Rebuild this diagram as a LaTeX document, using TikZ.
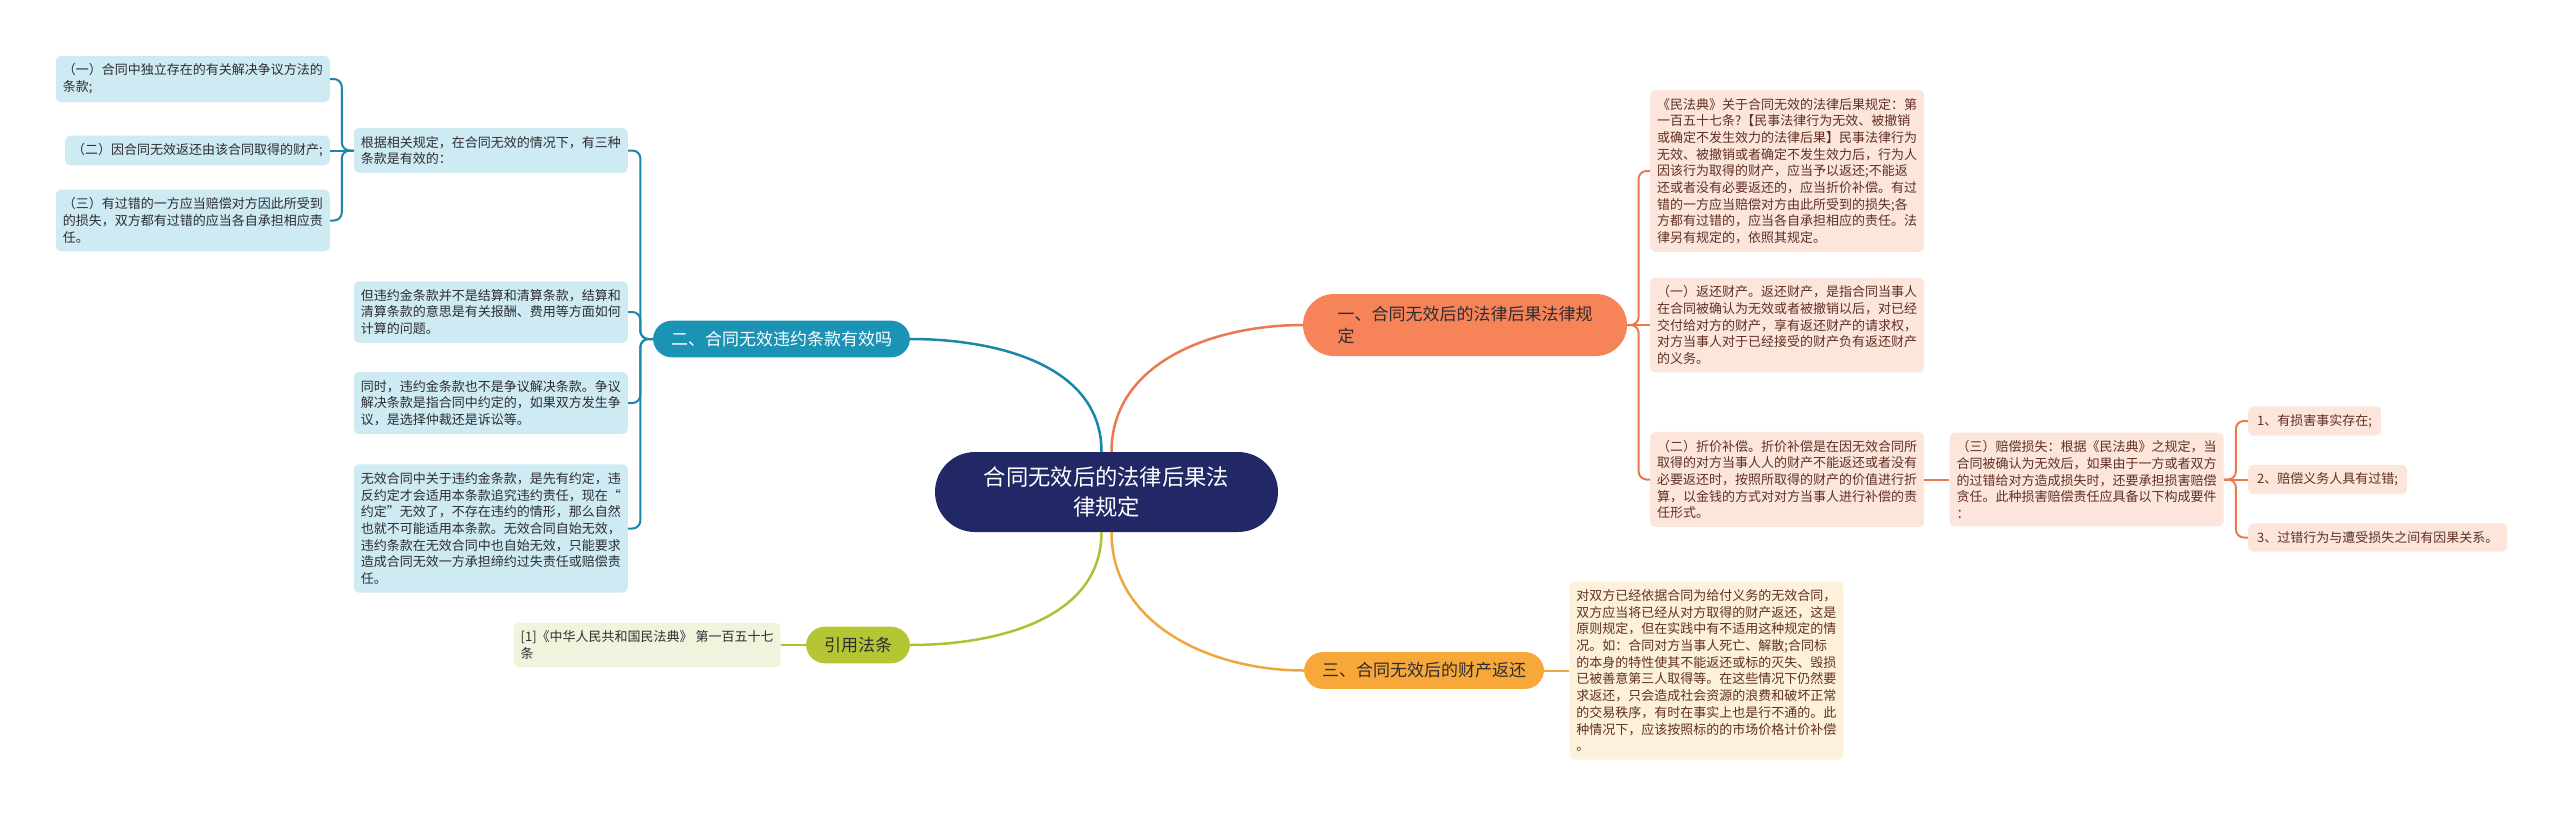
\documentclass[tikz,border=0pt]{standalone}
\usepackage{fontspec}
\setmainfont{Noto Sans CJK SC}
\usetikzlibrary{positioning, calc}

\definecolor{navy}{RGB}{34,40,102}
\definecolor{coral}{RGB}{247,131,89}
\definecolor{coralline}{RGB}{234,121,79}
\definecolor{peach}{RGB}{252,230,220}
\definecolor{brown}{RGB}{96,48,34}
\definecolor{teal}{RGB}{26,147,181}
\definecolor{tealline}{RGB}{25,135,168}
\definecolor{skyleaf}{RGB}{206,234,243}
\definecolor{amber}{RGB}{247,168,56}
\definecolor{amberline}{RGB}{240,166,62}
\definecolor{cream}{RGB}{253,241,220}
\definecolor{lime}{RGB}{182,197,52}
\definecolor{limeline}{RGB}{176,192,50}
\definecolor{limeleaf}{RGB}{241,244,220}
\definecolor{ink}{RGB}{45,45,50}

\tikzset{
  topic/.style={fill=navy, text=white, align=center, rounded corners=40pt,
    minimum width=343pt, minimum height=80pt, font=\fontsize{22.3}{30}\selectfont},
  branch/.style={rounded corners=19pt, inner xsep=18pt, inner ysep=10.5pt,
    font=\fontsize{17}{22}\selectfont},
  leaf/.style={rounded corners=5pt, align=left, inner xsep=7pt, inner ysep=8pt,
    font=\fontsize{13}{16.7}\selectfont},
  link/.style={line width=2.5pt},
  twig/.style={line width=2pt},
  fork/.style={rounded corners=8pt,
    to path={-| ($(\tikztostart)!.5!(\tikztotarget)$) |- (\tikztotarget)}},
}

\begin{document}
\begin{tikzpicture}[x=1pt, y=1pt]
\useasboundingbox (0,0) rectangle (2560,-817);

% central topic
\node[topic] (rt) at (1106.5,-492) {合同无效后的法律后果法\\律规定};

% main branches
\node[branch, fill=coral, text=ink, align=left, minimum width=324pt, minimum height=62pt,
  rounded corners=31pt] (b1) at (1465,-325) {一、合同无效后的法律后果法律规\\定};
\node[branch, fill=teal, text=white] (b2) at (781.5,-339) {二、合同无效违约条款有效吗};
\node[branch, fill=amber, text=ink] (b3) at (1424,-670.5) {三、合同无效后的财产返还};
\node[branch, fill=lime, text=ink] (b4) at (858,-645) {引用法条};

% leaves of branch one
\node[leaf, fill=peach, text=brown, anchor=west] (la) at (1650,-171)
{《民法典》关于合同无效的法律后果规定：第\\
一百五十七条?【民事法律行为无效、被撤销\\
或确定不发生效力的法律后果】民事法律行为\\
无效、被撤销或者确定不发生效力后，行为人\\
因该行为取得的财产，应当予以返还;不能返\\
还或者没有必要返还的，应当折价补偿。有过\\
错的一方应当赔偿对方由此所受到的损失;各\\
方都有过错的，应当各自承担相应的责任。法\\
律另有规定的，依照其规定。};
\node[leaf, fill=peach, text=brown, anchor=west] (lb) at (1650,-325)
{（一）返还财产。返还财产，是指合同当事人\\
在合同被确认为无效或者被撤销以后，对已经\\
交付给对方的财产，享有返还财产的请求权，\\
对方当事人对于已经接受的财产负有返还财产\\
的义务。};
\node[leaf, fill=peach, text=brown, anchor=west] (lc) at (1650,-479.5)
{（二）折价补偿。折价补偿是在因无效合同所\\
取得的对方当事人人的财产不能返还或者没有\\
必要返还时，按照所取得的财产的价值进行折\\
算，以金钱的方式对对方当事人进行补偿的责\\
任形式。};
\node[leaf, fill=peach, text=brown] (ld) [right=25pt of lc]
{（三）赔偿损失：根据《民法典》之规定，当\\
合同被确认为无效后，如果由于一方或者双方\\
的过错给对方造成损失时，还要承担损害赔偿\\
贪任。此种损害赔偿责任应具备以下构成要件\\
：};
\node[leaf, fill=peach, text=brown, anchor=west, inner xsep=9pt] (i1) at (2248,-421) {1、有损害事实存在;};
\node[leaf, fill=peach, text=brown, anchor=west, inner xsep=9pt] (i2) at (2248,-479.5) {2、赔偿义务人具有过错;};
\node[leaf, fill=peach, text=brown, anchor=west, inner xsep=9pt] (i3) at (2248,-537.5) {3、过错行为与遭受损失之间有因果关系。};

% leaves of branch two
\node[leaf, fill=skyleaf, text=ink, anchor=east] (gj) at (628,-150.5)
{根据相关规定，在合同无效的情况下，有三种\\条款是有效的：};
\node[leaf, fill=skyleaf, text=ink, anchor=east] (l1) at (330,-79)
{（一）合同中独立存在的有关解决争议方法的\\条款;};
\node[leaf, fill=skyleaf, text=ink, anchor=east] (l2) at (330,-150.5)
{（二）因合同无效返还由该合同取得的财产;};
\node[leaf, fill=skyleaf, text=ink, anchor=east] (l3) at (330,-220.5)
{（三）有过错的一方应当赔偿对方因此所受到\\
的损失，双方都有过错的应当各自承担相应责\\
任。};
\node[leaf, fill=skyleaf, text=ink, anchor=east] (w1) at (628,-312)
{但违约金条款并不是结算和清算条款，结算和\\
清算条款的意思是有关报酬、费用等方面如何\\
计算的问题。};
\node[leaf, fill=skyleaf, text=ink, anchor=east] (w2) at (628,-403)
{同时，违约金条款也不是争议解决条款。争议\\
解决条款是指合同中约定的，如果双方发生争\\
议，是选择仲裁还是诉讼等。};
\node[leaf, fill=skyleaf, text=ink, anchor=east] (w3) at (628,-528.5)
{无效合同中关于违约金条款，是先有约定，违\\
反约定才会适用本条款追究违约责任，现在“\\
约定”无效了，不存在违约的情形，那么自然\\
也就不可能适用本条款。无效合同自始无效，\\
违约条款在无效合同中也自始无效，只能要求\\
造成合同无效一方承担缔约过失责任或赔偿责\\
任。};

% leaves of branches three and four
\node[leaf, fill=cream, text=brown] (rd) [right=25pt of b3]
{对双方已经依据合同为给付义务的无效合同，\\
双方应当将已经从对方取得的财产返还，这是\\
原则规定，但在实践中有不适用这种规定的情\\
况。如：合同对方当事人死亡、解散;合同标\\
的本身的特性使其不能返还或标的灭失、毁损\\
已被善意第三人取得等。在这些情况下仍然要\\
求返还，只会造成社会资源的浪费和破坏正常\\
的交易秩序，有时在事实上也是行不通的。此\\
种情况下，应该按照标的的市场价格计价补偿\\
。};
\node[leaf, fill=limeleaf, text=ink] (ce) [left=25pt of b4]
{[1]《中华人民共和国民法典》 第一百五十七\\条};

% links from the centre
\path[link] ([xshift=5pt]rt.north) edge[color=coralline, out=90, in=180] (b1.west)
            ([xshift=-5pt]rt.north) edge[color=tealline, out=90, in=0] (b2.east)
            ([xshift=5pt]rt.south) edge[color=amberline, out=-90, in=180] (b3.west)
            ([xshift=-5pt]rt.south) edge[color=limeline, out=-90, in=0] (b4.east);

% links to the leaves
\path[twig, color=coralline] (b1.east) edge[fork] (la.west)
                                       edge (lb.west)
                                       edge[fork] (lc.west)
  (lc.east) edge (ld.west)
  (ld.east) edge[fork] (i1.west)
            edge (i2.west)
            edge[fork] (i3.west);
\path[twig, color=tealline] (b2.west) edge[fork] (gj.east)
                                      edge[fork] (w1.east)
                                      edge[fork] (w2.east)
                                      edge[fork] (w3.east)
  (gj.west) edge[fork] (l1.east)
            edge (l2.east)
            edge[fork] (l3.east);
\path[twig, color=amberline] (b3.east) edge (rd.west);
\path[twig, color=limeline] (b4.west) edge (ce.east);

\end{tikzpicture}
\end{document}
